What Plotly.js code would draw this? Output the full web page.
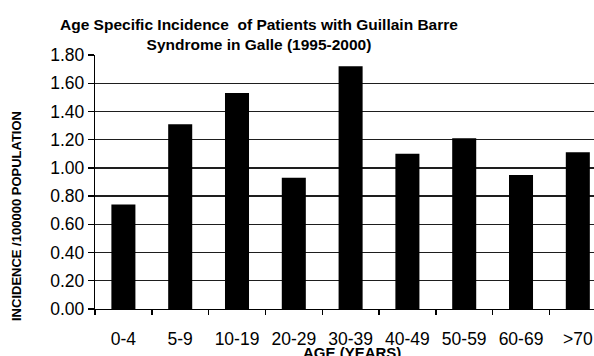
<!DOCTYPE html>
<html>
<head>
<meta charset="utf-8">
<script src="https://cdn.plot.ly/plotly-3.0.1.min.js"></script>
<style>html,body{margin:0;padding:0;background:#fff;}#chart{width:594px;height:356px;}</style>
</head>
<body>
<div id="chart"></div>
<script>
var categories = ["0-4", "5-9", "10-19", "20-29", "30-39", "40-49", "50-59", "60-69", ">70"];
var incidence = [0.74, 1.31, 1.53, 0.93, 1.72, 1.10, 1.21, 0.95, 1.11];
var yTickVals = [0, 0.2, 0.4, 0.6, 0.8, 1.0, 1.2, 1.4, 1.6, 1.8];
var yTickText = yTickVals.map(function (v) { return v.toFixed(2); });

var titleText = "Age Specific Incidence  of Patients with Guillain Barre<br>Syndrome in Galle (1995-2000)";
var xTitle = "AGE (YEARS)";
var yTitle = "INCIDENCE /100000 POPULATION";

var FONT = "Liberation Sans, Arial, Helvetica, sans-serif";

var trace = {
  type: "bar",
  x: categories,
  y: incidence,
  marker: {color: "#000000"},
  hoverinfo: "none"
};

var layout = {
  width: 594,
  height: 356,
  margin: {l: 95, r: 0, t: 55, b: 47, pad: 0},
  paper_bgcolor: "#ffffff",
  plot_bgcolor: "#ffffff",
  showlegend: false,
  bargap: 0.577,
  font: {family: FONT, color: "#000000"},
  title: {
    text: titleText,
    font: {family: FONT, size: 15.5, weight: "bold", color: "#000000"},
    xref: "container", x: 0.436, xanchor: "center",
    yref: "container", y: 0.915, yanchor: "top"
  },
  xaxis: {
    type: "category",
    range: [-0.5, 8.285],
    tickson: "boundaries",
    ticks: "outside",
    ticklen: 5,
    tickwidth: 1.4,
    tickcolor: "#000000",
    showline: true,
    linecolor: "#000000",
    linewidth: 1.2,
    showgrid: false,
    tickfont: {family: FONT, size: 17.5, color: "#000000"},
    ticklabelstandoff: 14
  },
  yaxis: {
    range: [0, 1.8],
    tickvals: yTickVals,
    ticktext: yTickText,
    ticks: "outside",
    ticklen: 6,
    tickwidth: 1.4,
    tickcolor: "#000000",
    showline: true,
    linecolor: "#000000",
    linewidth: 1.2,
    showgrid: true,
    gridcolor: "#1e1e1e",
    gridwidth: 1.4,
    zeroline: false,
    tickfont: {family: FONT, size: 17.5, color: "#000000"}
  },
  annotations: [{
    text: xTitle,
    xref: "paper", x: 0.516, xanchor: "center",
    yref: "paper", y: 0, yanchor: "top", yshift: -33,
    showarrow: false,
    font: {family: FONT, size: 15, weight: "bold", color: "#000000"}
  }, {
    text: yTitle,
    textangle: -90,
    xref: "paper", x: 0, xanchor: "center", xshift: -79,
    yref: "paper", y: 0.5, yanchor: "middle", yshift: -34,
    showarrow: false,
    font: {family: FONT, size: 13, weight: "bold", color: "#000000"}
  }]
};

Plotly.newPlot("chart", [trace], layout, {displayModeBar: false, staticPlot: true});
</script>
</body>
</html>
